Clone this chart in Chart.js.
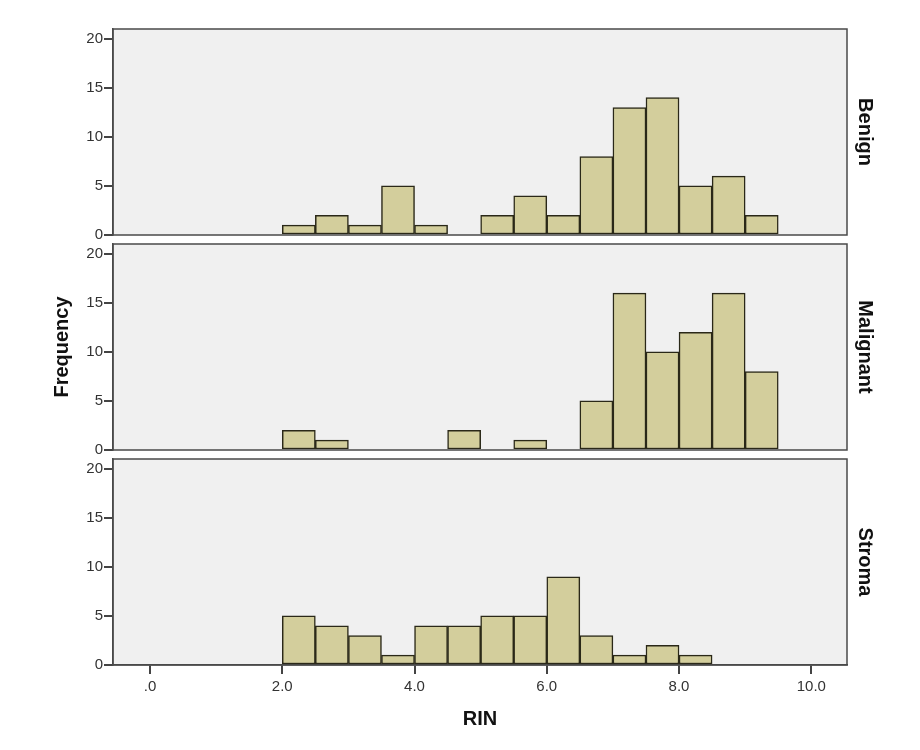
<!DOCTYPE html>
<html>
<head>
<meta charset="utf-8">
<script src="https://cdn.jsdelivr.net/npm/chart.js@4"></script>
<style>
  body { margin: 0; background: #fff; }
  #wrap { position: relative; width: 920px; height: 750px; }
  #wrap canvas { position: absolute; left: 0; top: 0; }
</style>
</head>
<body>
<div id="wrap">
  <canvas id="c0" width="920" height="750"></canvas>
  <canvas id="c1" width="920" height="750"></canvas>
  <canvas id="c2" width="920" height="750"></canvas>
</div>
<script>
// histogram bins (lower edge, width 0.5)
const binStarts = [2.0, 2.5, 3.0, 3.5, 4.0, 4.5, 5.0, 5.5, 6.0, 6.5, 7.0, 7.5, 8.0, 8.5, 9.0]
const binWidth = 0.5
const benign = [1, 2, 1, 5, 1, 0, 2, 4, 2, 8, 13, 14, 5, 6, 2]
const malignant = [2, 1, 0, 0, 0, 2, 0, 1, 0, 5, 16, 10, 12, 16, 8]
const stroma = [5, 4, 3, 1, 4, 4, 5, 5, 9, 3, 1, 2, 1, 0, 0]
const groups = ['Benign', 'Malignant', 'Stroma']
const counts = [benign, malignant, stroma]
const yTicks = [0, 5, 10, 15, 20]
const xTicks = [0, 2, 4, 6, 8, 10]
const xTickLabels = ['.0', '2.0', '4.0', '6.0', '8.0', '10.0']

// panel placement on the page
const tops = [29, 244, 459]
const bottoms = [235, 450, 665]
const plotLeft = 113
const plotRight = 847
const padL = 45
const padR = 40
const xAxisH = 80

const font = 'Liberation Sans, Arial, sans-serif'

const panelFrame = {
  id: 'panelFrame',
  beforeDraw(chart) {
    const { ctx, chartArea: a } = chart
    ctx.save()
    ctx.fillStyle = '#f0f0f0'
    ctx.fillRect(a.left, a.top, a.right - a.left, a.bottom - a.top)
    ctx.restore()
  },
  afterDatasetsDraw(chart) {
    const { ctx, chartArea: a } = chart
    ctx.save()
    ctx.strokeStyle = '#4a4a4a'
    ctx.lineWidth = 1.5
    ctx.strokeRect(a.left, a.top, a.right - a.left, a.bottom - a.top)
    ctx.restore()
  },
}

groups.forEach((name, i) => {
  const last = i === groups.length - 1
  const ctx = document.getElementById('c' + i).getContext('2d')
  new Chart(ctx, {
    type: 'bar',
    data: {
      datasets: [
        {
          data: binStarts.map((b, k) => ({ x: b + binWidth / 2, y: counts[i][k] })),
          backgroundColor: '#d3ce9c',
          borderColor: '#2a2818',
          borderWidth: 1.5,
          borderSkipped: false,
          barPercentage: 1,
          categoryPercentage: 1,
        },
      ],
    },
    options: {
      responsive: false,
      animation: false,
      events: [],
      layout: {
        padding: {
          left: padL,
          right: padR,
          top: tops[i],
          bottom: 750 - bottoms[i] - (last ? xAxisH : 0),
        },
      },
      plugins: {
        legend: { display: false },
        tooltip: { enabled: false },
        title: { display: false },
      },
      scales: {
        x: {
          type: 'linear',
          min: -0.56,
          max: 10.54,
          offset: false,
          display: last,
          afterFit: (s) => { s.height = last ? xAxisH : 0 },
          afterBuildTicks: (s) => { s.ticks = xTicks.map((v) => ({ value: v })) },
          grid: { display: true, drawOnChartArea: false, offset: false, tickLength: 9, color: '#444', lineWidth: 2 },
          border: { display: true, color: '#4a4a4a', width: 1.5 },
          ticks: {
            padding: 4,
            maxRotation: 0,
            color: '#333',
            font: { family: font, size: 15 },
            callback: (v) => xTickLabels[xTicks.indexOf(v)],
          },
          title: {
            display: true,
            text: 'RIN',
            color: '#111',
            font: { family: font, size: 20, weight: 'bold' },
            padding: { top: 0, bottom: 14 },
          },
        },
        y: {
          position: 'left',
          min: 0,
          max: 21,
          afterFit: (s) => { s.width = plotLeft - padL },
          afterBuildTicks: (s) => { s.ticks = yTicks.map((v) => ({ value: v })) },
          grid: { display: true, drawOnChartArea: false, tickLength: 9, color: '#444', lineWidth: 2 },
          border: { display: true, color: '#4a4a4a', width: 1.5 },
          ticks: { padding: 1, color: '#333', font: { family: font, size: 15 } },
          title: {
            display: i === 1,
            text: 'Frequency',
            color: '#111',
            font: { family: font, size: 20, weight: 'bold' },
            padding: { top: 5, bottom: 0 },
          },
        },
        r: {
          position: 'right',
          afterFit: (s) => { s.width = 920 - padR - plotRight },
          grid: { display: false },
          border: { display: false },
          ticks: { display: false },
          title: {
            display: true,
            text: name,
            color: '#111',
            font: { family: font, size: 20, weight: 'bold' },
            padding: { top: 3, bottom: 0 },
          },
        },
      },
    },
    plugins: [panelFrame],
  })
})
</script>
</body>
</html>
